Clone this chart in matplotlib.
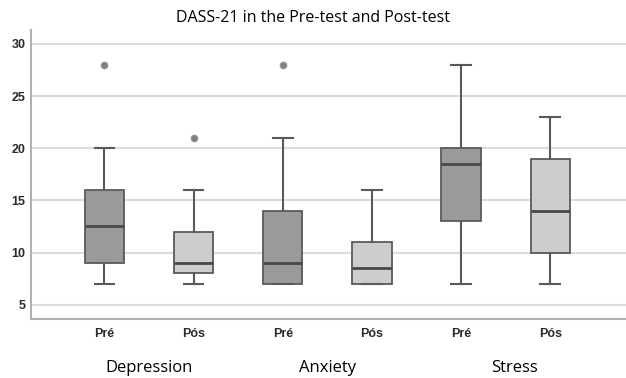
import matplotlib
matplotlib.use("Agg")
import matplotlib.pyplot as plt

groups = ["Depression", "Anxiety", "Stress"]
tests = ["Pré", "Pós", "Pré", "Pós", "Pré", "Pós"]
whislo = [7, 7, 7, 7, 7, 7]
q1 = [9, 8, 7, 7, 13, 10]
med = [12.5, 9, 9, 8.5, 18.5, 14]
q3 = [16, 12, 14, 11, 20, 19]
whishi = [20, 16, 21, 16, 28, 23]
outliers = [[28], [21], [28], [], [], []]

stats = []
for i in range(len(tests)):
    stats.append(dict(whislo=whislo[i], q1=q1[i], med=med[i], q3=q3[i],
                      whishi=whishi[i], fliers=outliers[i], label=tests[i]))

fig = plt.figure(figsize=(6.26, 3.78), dpi=100)
ax = fig.add_axes([0.05, 0.155, 0.95, 0.765])

pos = [1, 2, 3, 4, 5, 6]
bp = ax.bxp(stats, positions=pos, widths=0.44, patch_artist=True,
            boxprops=dict(edgecolor="#5a5a5a", linewidth=1.3),
            medianprops=dict(color="#484848", linewidth=2),
            whiskerprops=dict(color="#5a5a5a", linewidth=1.5),
            capprops=dict(color="#5a5a5a", linewidth=1.5),
            capwidths=0.22,
            flierprops=dict(marker="o", markersize=4.5, markerfacecolor="#808080",
                            markeredgecolor="#909090"))
for i, b in enumerate(bp["boxes"]):
    b.set_facecolor("#9a9a9a" if i % 2 == 0 else "#cdcdcd")

ax.set_xlim(0.18, 6.85)
ax.set_ylim(3.6, 31.3)
ax.set_yticks([5, 10, 15, 20, 25, 30])
ax.yaxis.grid(True, color="#dcdcdc", linewidth=1.5)
ax.set_axisbelow(True)
ax.tick_params(length=0, labelsize=9, labelcolor="#2a2a2a", pad=6)
ax.tick_params(axis="y", pad=4)
for lab in ax.get_xticklabels() + ax.get_yticklabels():
    lab.set_fontweight("bold")
    lab.set_family("Liberation Sans")
for s in ["top", "right"]:
    ax.spines[s].set_visible(False)
for s in ["left", "bottom"]:
    ax.spines[s].set_color("#b0b0b0")
    ax.spines[s].set_linewidth(1.5)

fig.text(0.5, 0.952, "DASS-21 in the Pre-test and Post-test", ha="center",
         va="center", fontsize=11.5, family="Open Sans")
for g, x in zip(groups, [1.5, 3.5, 5.6]):
    ax.text(x, -0.168, g, transform=ax.get_xaxis_transform(), ha="center",
            va="center", fontsize=12, family="Open Sans")

fig.savefig("out.png", dpi=100)
